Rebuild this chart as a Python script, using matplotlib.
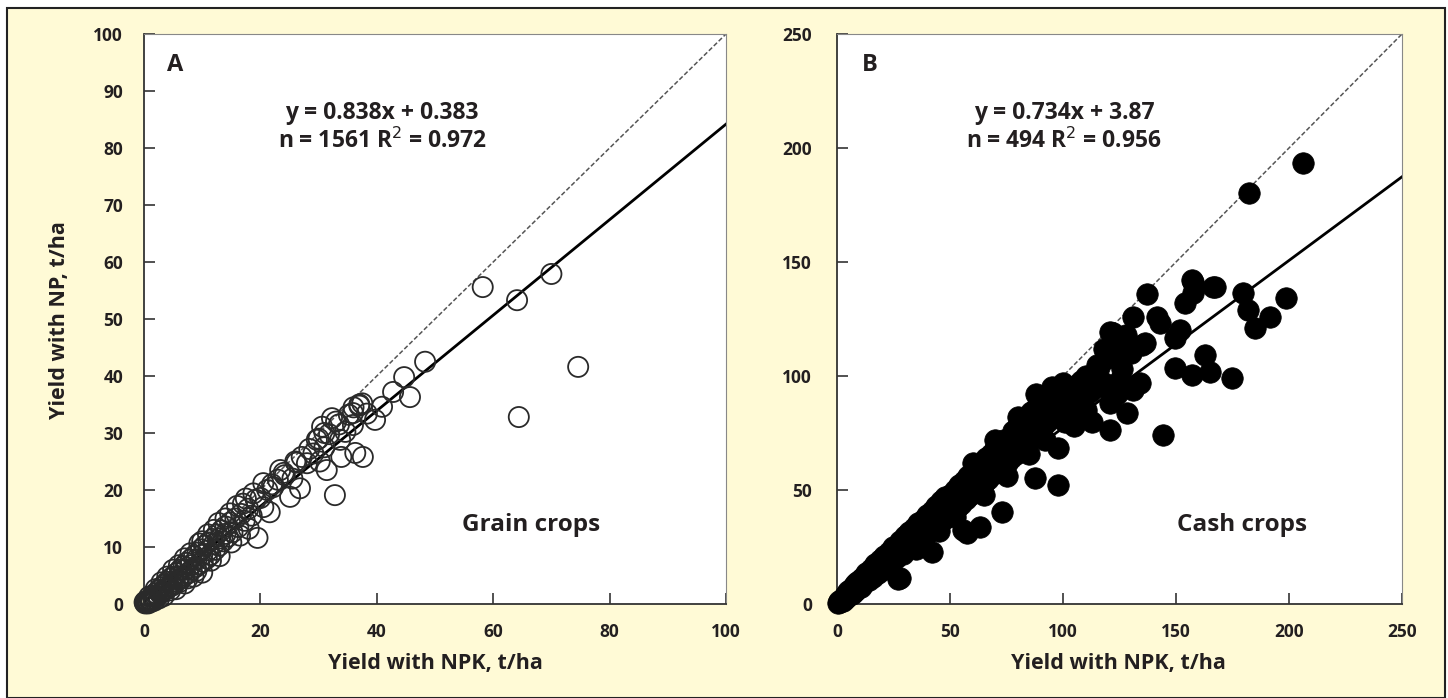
import matplotlib
matplotlib.use("Agg")
import matplotlib.pyplot as plt
from matplotlib.patches import Rectangle
import numpy as np

plt.rcParams['font.family'] = ['Open Sans', 'DejaVu Sans']

# ---------------- data ----------------
grain_pts = [
    (0.2,0.1),(0.4,0.3),(0.6,0.5),(0.8,0.4),(1.0,0.9),(1.2,0.7),(1.5,1.4),(1.7,1.0),(2.0,1.9),(2.2,1.4),
    (2.5,2.4),(2.8,1.8),(3.0,2.9),(3.2,2.2),(3.5,3.4),(3.8,2.6),(4.0,3.9),(4.3,3.0),(4.6,4.5),(4.8,3.2),
    (5.0,4.8),(5.3,3.6),(5.6,5.4),(5.9,4.3),(6.2,6.0),(6.5,4.6),(6.8,6.6),(7.0,5.0),(7.3,7.2),(7.6,5.4),
    (8.0,7.8),(8.2,6.0),(8.6,8.4),(8.9,6.5),(9.2,9.0),(9.5,7.0),(9.8,9.6),(10.1,7.4),(10.4,10.2),(10.8,8.0),
    (11.1,10.8),(11.4,8.6),(11.8,11.4),(12.2,9.5),(12.5,12.2),(12.9,10.2),(13.3,12.9),(13.6,11.0),(14.0,13.6),
    (14.4,11.8),(14.8,14.3),(15.2,12.6),(15.7,15.0),(16.2,13.5),(16.7,15.8),(17.3,14.6),(17.9,16.7),(18.5,15.5),
    (19.2,18.3),(19.5,11.6),(20.0,18.6),(20.5,17.0),(21.2,20.0),(21.6,16.1),(22.2,20.5),(23.0,21.8),(23.4,23.5),
    (24.2,22.6),(25.1,18.8),(25.5,22.0),(26.2,24.8),(26.8,20.3),(27.1,25.8),(28.0,24.7),(28.4,27.2),(29.1,26.4),
    (29.7,28.8),(30.2,25.0),(30.6,31.1),(31.0,27.5),(31.4,23.5),(31.8,29.8),(32.3,32.6),(32.8,19.1),(33.5,31.5),
    (33.7,28.8),(33.9,25.8),(34.6,30.2),(35.2,33.2),(35.9,33.5),(35.9,31.4),(36.3,26.5),(37.0,34.8),(37.5,35.2),
    (37.6,25.8),(38.3,33.4),(39.7,32.3),(40.9,34.6),(42.8,37.2),(44.7,39.8),(45.7,36.3),(48.3,42.5),(58.2,55.6),
    (64.1,53.3),(64.4,32.8),(70.0,57.9),(74.6,41.6),
    (1.0,0.5),(2.0,1.2),(3.0,2.0),(4.0,2.8),(5.0,3.9),(6.0,4.8),(7.0,6.0),(8.0,6.8),(9.0,7.8),(10.0,8.6),
    (11.0,9.4),(12.0,10.5),(13.0,11.5),(14.0,12.3),(4.5,2.4),(6.0,3.8),(7.5,4.5),(9.0,5.8),(10.0,5.5),(11.5,7.6),
    (0.5,0.2),(0.3,0.5),(2.0,2.6),(4.0,4.8),(6.0,6.8),(8.0,8.9),(10.0,11.0),(12.0,13.0),(14.0,15.0),
    (22.0,21.0),(24.0,23.0),(26.0,25.0),(30.0,29.0),(31.0,30.0),(33.0,32.0),(36.0,34.5),(37.0,35.0),
    (0.1,0.3),(0.7,0.1),(1.3,0.4),(0.9,1.3),(1.8,0.6),(2.6,1.0),(3.4,1.4),(5.5,2.6),(7.0,3.6),(8.5,4.8),
    (9.5,10.6),(11.0,12.2),(12.8,14.2),(14.8,15.9),(16.0,17.2),(17.5,18.5),(13.0,8.4),(15.0,10.8),(16.5,12.0),
    (18.0,13.2),(17.0,17.6),(18.8,19.4),(20.5,21.2),(3.0,3.8),(5.0,6.0),(7.0,8.0),
]
grain_npk = [p[0] for p in grain_pts]
grain_np = [p[1] for p in grain_pts]

cash_pts = [
    (0.5,0.3),(1,1.2),(1.5,0.8),(2,2.3),(2.5,1.5),(3,3.2),(3.5,2.2),(4,4.5),(4.5,3),(5,5.5),(5.5,3.8),(6,6.5),
    (6.5,4.5),(7,7.6),(7.5,5.2),(8,8.6),(8.5,6),(9,9.5),(9.5,6.8),(10,10.5),(10.5,7.5),(11,11.5),(12,9),(13,13.5),
    (14,10.5),(15,15.5),(16,12),(17,17.5),(18,13.5),(19,19.5),(20,15),(21,21),(22,17),(23,23),(24,18.5),(25,25),
    (26,20),(27,11),(27.9,11.4),(28,27.5),(29,22),(30,30),(31,24),(32,31.5),(33,26),(34,33.5),(35,27),(36,35.5),
    (37,29),(38,37),(39,30),(40,39),(41,32),(42,22.8),(42,41),(43,34),(44,43),(45,35),(46,45),(47,37),(48,47),
    (49,39),(50,48),(51,40),(52,50),(53,42),(54,52),(55,44),(55.8,32.5),(56,54),(57,46),(57.5,31.1),(58,56),
    (59,48),(60,58),(61,49),(62,60),(63,51),(63.3,33.8),(64,62),(65,53),(66,64),(67,55),(68,66),(69,57),(70,68),
    (71,58),(72,70),(73,40.4),(73,60),(74,72),(75,62),(76,73),(77,64),(78,76),(79,66),(80,78),(81,68),(82,80),
    (83,70),(84,82),(85,72),(86,84),(87,74),(87.6,55.3),(88,86),(89,76),(90,88),(91,78),(92,90),(93,80),(94,91),
    (95,82),(96,92),(97,84),(97.8,68.4),(97.8,52.2),(98,93),(99,86),(100,88),(101,80),(102,91),(103,83),(104,94),
    (105,86),(106,96),(107,88),(108,98),(109,90),(110,100),(112,93),(113,80),(115,95),(116,104),(118,97),(120,108),
    (120.8,119.3),(120.8,88.2),(120.8,76.3),(122,119),(123.9,111.4),(125.2,98.2),(126,103),(128.3,83.8),(130,110),
    (131,125.9),(131,93.9),(134,96.9),(135,113.6),(136.3,114.5),(137.2,136),(141.6,125.9),(142.9,123.2),(144.2,74.1),
    (149.6,116.7),(149.6,103.5),(151.8,120.2),(154,132),(157,142),(157.5,141.2),(157.5,136.4),(157,100.4),
    (162.8,109.2),(165,101.8),(166.4,139),(167.3,139),(174.8,99),(179.6,136.4),(181.9,129),(182.3,180.3),
    (185,121),(191.6,125.9),(198.7,134.2),(206.2,193.4),
    (20,18),(30,26),(40,35),(50,44),(60,53),(70,62),(80,71),(90,82),(100,92),(110,95),(115,105),(125,115),
    (118,112),(128,118),(60,62),(70,72),(80,82),(88,92),(95,95),(100,97),
    (35,24),(45,32),(52,38),(65,48),(75,56),(85,66),(92,72),(105,78),(110,85),(124,92),
]
cash_npk = [p[0] for p in cash_pts]
cash_np = [p[1] for p in cash_pts]

grain_fit = (0.838, 0.383)
cash_fit = (0.734, 3.87)

grain_ticks = [0, 20, 40, 60, 80, 100]
grain_yticks = [0, 10, 20, 30, 40, 50, 60, 70, 80, 90, 100]
cash_ticks = [0, 50, 100, 150, 200, 250]

# ---------------- figure ----------------
W, H = 1448, 698
fig = plt.figure(figsize=(W / 100, H / 100), dpi=100)
fig.patch.set_facecolor('white')
bg = '#FFFAD6'
fig.patches.append(Rectangle((7 / W, 0), (1445 - 7) / W, (H - 8) / H, transform=fig.transFigure,
                             facecolor=bg, edgecolor='#222222', linewidth=1.5, zorder=-10))

def pos(l, r, t, b):
    return [l / W, 1 - b / H, (r - l) / W, (b - t) / H]

txtc = '#231f20'
FW = 'bold'

def style(ax, lim, xt, yt, ypad):
    ax.set_xlim(0, lim)
    ax.set_ylim(0, lim)
    ax.set_xticks(xt)
    ax.set_yticks(yt)
    ax.tick_params(direction='in', length=8, width=1.2, color='#333333', labelsize=12.5,
                   labelcolor=txtc)
    ax.tick_params(axis='y', pad=ypad)
    ax.tick_params(axis='x', pad=14)
    for lab in ax.get_xticklabels() + ax.get_yticklabels():
        lab.set_fontweight(FW)
    for s in ['left', 'bottom']:
        ax.spines[s].set_color('#333333')
        ax.spines[s].set_linewidth(1.3)
    for s in ['top', 'right']:
        ax.spines[s].set_color('#888888')
        ax.spines[s].set_linewidth(0.8)
    ax.set_facecolor('white')

# Panel A
axA = fig.add_axes(pos(144, 726, 34, 604))
style(axA, 100, grain_ticks, grain_yticks, 15)
xx = np.array([0, 100])
axA.plot(xx, xx, linestyle=(0, (3, 1.5)), color='#555555', lw=1.1, zorder=2)
axA.plot(xx, grain_fit[0] * xx + grain_fit[1], color='black', lw=2.0, zorder=2)
axA.scatter(grain_npk, grain_np, s=210, facecolors='none', edgecolors='#2a2a2a',
            linewidths=1.3, zorder=3, clip_on=False)
axA.text(0.04, 0.945, 'A', transform=axA.transAxes, fontsize=17, fontweight=FW,
         color=txtc, va='center', ha='left')
axA.text(0.409, 0.862, 'y = 0.838x + 0.383', transform=axA.transAxes, fontsize=16.5,
         fontweight=FW, color=txtc, ha='center', va='center')
axA.text(0.409, 0.812, 'n = 1561 R$^{2}$ = 0.972', transform=axA.transAxes, fontsize=16.5,
         fontweight=FW, color=txtc, ha='center', va='center')
axA.text(0.665, 0.139, 'Grain crops', transform=axA.transAxes, fontsize=17.5,
         fontweight=FW, color=txtc, ha='center', va='center')

# Panel B
axB = fig.add_axes(pos(837, 1402, 34, 604))
style(axB, 250, cash_ticks, cash_ticks, 18)
xx = np.array([0, 250])
axB.plot(xx, xx, linestyle=(0, (3, 1.5)), color='#555555', lw=1.1, zorder=2)
axB.plot(xx, cash_fit[0] * xx + cash_fit[1], color='black', lw=2.0, zorder=2)
axB.scatter(cash_npk, cash_np, s=240, facecolors='black', edgecolors='black',
            linewidths=0.5, zorder=3, clip_on=False)
axB.text(0.044, 0.945, 'B', transform=axB.transAxes, fontsize=17, fontweight=FW,
         color=txtc, va='center', ha='left')
axB.text(0.402, 0.862, 'y = 0.734x + 3.87', transform=axB.transAxes, fontsize=16.5,
         fontweight=FW, color=txtc, ha='center', va='center')
axB.text(0.402, 0.812, 'n = 494 R$^{2}$ = 0.956', transform=axB.transAxes, fontsize=16.5,
         fontweight=FW, color=txtc, ha='center', va='center')
axB.text(0.717, 0.139, 'Cash crops', transform=axB.transAxes, fontsize=17.5,
         fontweight=FW, color=txtc, ha='center', va='center')

# axis labels
fig.text(435 / W, 1 - 664 / H, 'Yield with NPK, t/ha', fontsize=15.5, fontweight=FW,
         color=txtc, ha='center', va='center')
fig.text(1118 / W, 1 - 664 / H, 'Yield with NPK, t/ha', fontsize=15.5, fontweight=FW,
         color=txtc, ha='center', va='center')
fig.text(60 / W, 1 - 320 / H, 'Yield with NP, t/ha', fontsize=15.5, fontweight=FW,
         color=txtc, ha='center', va='center', rotation=90)

fig.savefig('out.png', dpi=100, facecolor=fig.get_facecolor())
